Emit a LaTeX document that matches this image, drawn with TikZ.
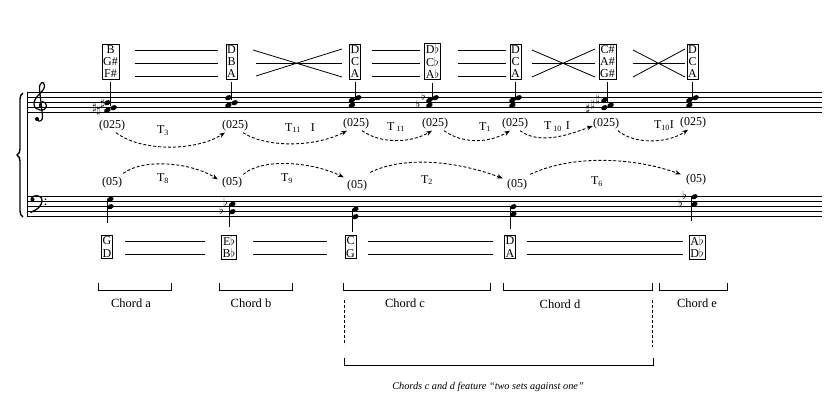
\documentclass[tikz,border=0pt]{standalone}
\usepackage{fontspec}
\setmainfont{Liberation Serif}
\usetikzlibrary{arrows.meta,decorations.pathreplacing,calc}
\newcommand\nhd[2]{\fill[rotate around={25:(#1,#2)}] (#1,#2) ellipse [x radius=3.4, y radius=2.4];}
\begin{document}
\begin{tikzpicture}[x=1pt,y=-1pt,
  box/.style={draw, line width=0.7pt, inner sep=1.3pt, align=center, font=\fontsize{12}{12.3}\selectfont},
  lab/.style={font=\fontsize{12}{12}\selectfont, inner sep=1pt},
  chordlab/.style={font=\fontsize{12.5}{13}\selectfont, inner sep=1pt},
  staffline/.style={line width=0.8pt},
  conn/.style={line width=0.8pt},
  stem/.style={line width=0.8pt},
  brk/.style={line width=0.9pt},
  acc/.style={inner sep=0pt, font=\fontsize{11}{11}\selectfont},
  darr/.style={dash pattern=on 3pt off 2pt, line width=0.9pt, -{Stealth[length=6pt,width=4.5pt]}}
]
\fill[white] (0,0) rectangle (840,413);
\useasboundingbox (0,0) rectangle (840,413);

% staves
\foreach \y in {92.7,97.7,102.7,107.7,112.7} {\draw[staffline] (27,\y) -- (822,\y);}
\foreach \y in {196.7,201.7,206.7,211.7,216.7} {\draw[staffline] (27,\y) -- (822,\y);}
\draw[line width=0.9pt] (27,92.7) -- (27,216.7);
\draw[decorate, decoration={brace, amplitude=6pt}, line width=1.4pt] (23,217) -- (23,93);

% treble clef (drawn)
\fill (37,119) circle [radius=2];
\draw[line width=1.2pt] (37,119) .. controls (39,123) and (43,121) .. (42.5,116)
  -- (39.5,89) .. controls (39,82) and (44.5,80) .. (44.5,86)
  .. controls (44.5,92) and (34,96) .. (34,104)
  .. controls (34,111.5) and (46.5,112) .. (46.5,106)
  .. controls (46.5,100.5) and (39,100.5) .. (39.5,105.5)
  .. controls (39.8,107.5) and (41,108) .. (42,108);
% bass clef (drawn)
\fill (32.5,199.5) circle [radius=2];
\draw[line width=1.3pt] (31,199) .. controls (32,194.5) and (42,194) .. (42,200.5)
  .. controls (42,206) and (37,210) .. (30.5,212.5);
\fill (45.5,199.2) circle [radius=0.9];
\fill (45.5,204.2) circle [radius=0.9];

% top boxes
\node[box] (b1) at (110.5,61.5) {B\\G\#\\F\#};
\node[box] (b2) at (231.5,61.5) {D\\B\\A};
\node[box] (b3) at (355,61.5) {D\\C\\A};
\node[box] (b4) at (432.5,61.5) {D$\flat$\\C$\flat$\\A$\flat$};
\node[box] (b5) at (515.5,61.5) {D\\C\\A};
\node[box] (b6) at (607.5,61.5) {C\#\\A\#\\G\#};
\node[box] (b7) at (692.5,61.5) {D\\C\\A};

% connections between top boxes
\foreach \y in {50,63,76} {
  \draw[conn] (135,\y) -- (218,\y);
  \draw[conn] (372,\y) -- (420,\y);
  \draw[conn] (458,\y) -- (506,\y);
}
\draw[conn] (253,50) -- (342,77); \draw[conn] (256,76) -- (342,49); \draw[conn] (256,63) -- (342,63);
\draw[conn] (532,50) -- (595,77); \draw[conn] (532,77) -- (595,49); \draw[conn] (532,63) -- (595,63);
\draw[conn] (633,50) -- (685,77); \draw[conn] (633,77) -- (685,49); \draw[conn] (633,63) -- (685,63);

% chord 1: B G# F#
\draw[stem] ([yshift=-3pt]b1.south) -- (110.5,106);
\nhd{107.4}{102.7}\nhd{113.6}{107.7}\nhd{107.4}{110.2}
\node[acc] at (94.5,107.5) {$\sharp$};\node[acc] at (98.5,111) {$\sharp$};\node[acc] at (102.5,104) {$\sharp$};
% chord 2: D B A
\draw[stem] ([yshift=-3pt]b2.south) -- (231.5,100);
\nhd{228.4}{97.7}\nhd{234.6}{102.7}\nhd{228.4}{105.2}
% chord 3: D C A
\draw[stem] ([yshift=-3pt]b3.south) -- (355,100);
\nhd{358.1}{97.7}\nhd{351.9}{100.2}\nhd{351.9}{105.2}
% chord 4: Db Cb Ab
\draw[stem] ([yshift=-3pt]b4.south) -- (432.5,100);
\nhd{435.6}{97.7}\nhd{429.4}{100.2}\nhd{429.4}{105.2}
\node[acc] at (418,104.5) {$\flat$};\node[acc] at (423.5,96) {$\flat$};
% chord 5: D C A
\draw[stem] ([yshift=-3pt]b5.south) -- (515.5,100);
\nhd{518.6}{97.7}\nhd{512.4}{100.2}\nhd{512.4}{105.2}
% chord 6: C# A# G#
\draw[stem] ([yshift=-3pt]b6.south) -- (607.5,102);
\nhd{604.4}{100.2}\nhd{610.6}{105.2}\nhd{604.4}{107.7}
\node[acc] at (588,109) {$\sharp$};\node[acc] at (592.5,104.5) {$\sharp$};\node[acc] at (597.5,100) {$\sharp$};
% chord 7: D C A
\draw[stem] ([yshift=-3pt]b7.south) -- (692.5,100);
\nhd{695.6}{97.7}\nhd{689.4}{100.2}\nhd{689.4}{105.2}

% (025) labels
\node[lab] (t1) at (112,126) {(025)};
\node[lab] (t2) at (235,126) {(025)};
\node[lab] (t3) at (356,124) {(025)};
\node[lab] (t4) at (435,124) {(025)};
\node[lab] (t5) at (515,124) {(025)};
\node[lab] (t6) at (606,124) {(025)};
\node[lab] (t7) at (693,123) {(025)};
% T labels top
\node[lab] (o1) at (163,131) {T\textsubscript{3}};
\node[lab] (o2) at (300,128) {T\textsubscript{11}\hspace{10pt}I};
\node[lab] (o3) at (396,127) {T\,\textsubscript{11}};
\node[lab] (o4) at (485,127) {T\textsubscript{1}};
\node[lab] (o5) at (557,127) {T\,\textsubscript{10}\,\,I};
\node[lab] (o6) at (664,126) {T\textsubscript{10}I};
% top arrows
\draw[darr] ([xshift=4pt]t1.south) .. controls +(25,19) and +(-30,19) .. ([xshift=-10pt]t2.south);
\draw[darr] ([xshift=8pt]t2.south) .. controls +(25,16) and +(-30,16) .. ([xshift=-9pt]t3.south);
\draw[darr] ([xshift=6pt]t3.south) .. controls +(18,13) and +(-22,13) .. ([xshift=-3pt]t4.south);
\draw[darr] ([xshift=9pt]t4.south) .. controls +(18,13) and +(-22,13) .. ([xshift=-5pt]t5.south);
\draw[darr] ([xshift=5pt]t5.south) .. controls +(20,15) and +(-22,8) .. ($(t6.west)+(1,2)$);
\draw[darr] ([xshift=12pt]t6.south) .. controls +(16,14) and +(-20,14) .. ([xshift=-5pt]t7.south);

% bass labels
\node[lab] (l1) at (112,183) {(05)};
\node[lab] (l2) at (232,183) {(05)};
\node[lab] (l3) at (357,186) {(05)};
\node[lab] (l4) at (517,185) {(05)};
\node[lab] (l5) at (696,180) {(05)};
\node[lab] (u1) at (163,179) {T\textsubscript{8}};
\node[lab] (u2) at (287,179) {T\textsubscript{9}};
\node[lab] (u3) at (427,180) {T\textsubscript{2}};
\node[lab] (u4) at (597,182) {T\textsubscript{6}};
\draw[darr] ($(l1.north east)+(0,-3)$) .. controls +(22,-16) and +(-25,-16) .. ($(l2.north west)+(-3,3)$);
\draw[darr] ($(l2.north east)+(0,-2)$) .. controls +(22,-18) and +(-28,-14) .. ($(l3.north west)+(-2,-2)$);
\draw[darr] ($(l3.north east)+(2,-7)$) .. controls +(35,-17) and +(-45,-17) .. ($(l4.north west)+(-3,0)$);
\draw[darr] ($(l4.north east)+(2,-4)$) .. controls +(40,-19) and +(-50,-18) .. ($(l5.north west)+(-4,1)$);

% bass chords
\draw[stem] (107,199) -- (107,223);
\nhd{110.4}{199.2}\nhd{110.4}{206.7}
\draw[stem] (229,204) -- (229,227);
\nhd{232.4}{204.2}\nhd{232.4}{211.7}
\node[acc] at (221.5,210.5) {$\flat$};\node[acc] at (225.5,202.5) {$\flat$};
\draw[stem] (352,209) -- (352,232);
\nhd{355.4}{209.2}\nhd{355.4}{216.7}
\draw[stem] (510,207) -- (510,229);
\nhd{513.4}{206.7}\nhd{513.4}{214.2}
\draw[stem] (691,197) -- (691,221);
\nhd{694.4}{196.7}\nhd{694.4}{204.2}
\node[acc] at (680.5,203.5) {$\flat$};\node[acc] at (684.5,195.5) {$\flat$};

% bottom boxes
\node[box] (c1) at (107,247) {G\\D};
\node[box] (c2) at (229,247) {E$\flat$\\B$\flat$};
\node[box] (c3) at (350.5,247) {C\\G};
\node[box] (c4) at (510,247) {D\\A};
\node[box] (c5) at (697,247) {A$\flat$\\D$\flat$};
\foreach \y in {241,254} {
  \draw[conn] (125,\y) -- (205,\y);
  \draw[conn] (253,\y) -- (327,\y);
  \draw[conn] (368,\y) -- (493,\y);
  \draw[conn] (527,\y) -- (683,\y);
}

% chord brackets
\draw[brk] (98,283) -- (98,290) -- (171,290) -- (171,283);
\draw[brk] (219,283) -- (219,290) -- (292,290) -- (292,283);
\draw[brk] (343,283) -- (343,290) -- (490,290) -- (490,283);
\draw[brk] (503,283) -- (503,290) -- (652,290) -- (652,283);
\draw[brk] (659,283) -- (659,290) -- (727,290) -- (727,283);
\node[chordlab] (ca) at (131,303) {Chord a};
\node[chordlab] (cb) at (251,303) {Chord b};
\node[chordlab] (cc) at (405,303) {Chord c};
\node[chordlab] (cd) at (560,304) {Chord d};
\node[chordlab] (ce) at (697,303) {Chord e};

% two sets against one
\draw[line width=0.9pt, dash pattern=on 3pt off 2pt] (344,300) -- (344,345);
\draw[line width=0.9pt, dash pattern=on 3pt off 2pt] (652,300) -- (652,347);
\draw[brk] (344,358) -- (344,365) -- (653,365) -- (653,358);
\node[font=\itshape\fontsize{10.3}{11}\selectfont, inner sep=1pt] (cap) at (488,387) {Chords c and d feature “two sets against one”};
\end{tikzpicture}
\end{document}
